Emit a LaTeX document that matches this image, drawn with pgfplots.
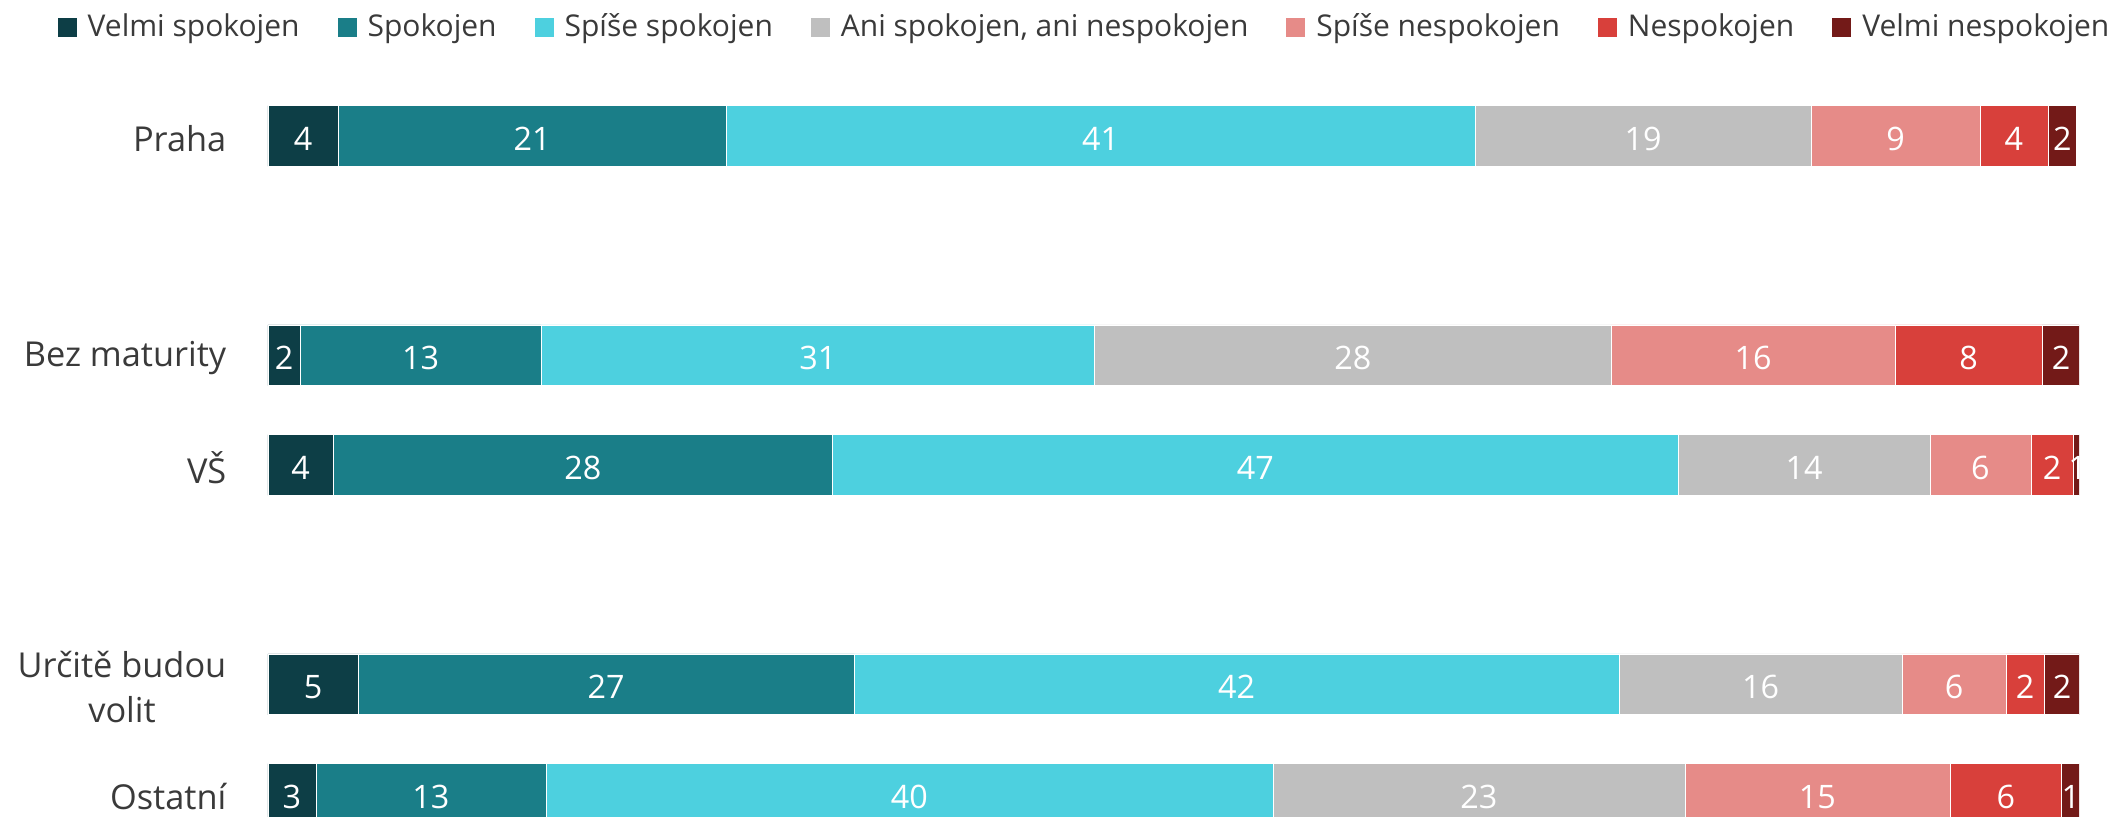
\documentclass[border=0pt]{standalone}
\usepackage{pgfplots}
\pgfplotsset{compat=1.18}
\usepackage{fontspec}
\setmainfont{Open Sans}
\definecolor{c1}{HTML}{0D3E46}
\definecolor{c2}{HTML}{1A7E88}
\definecolor{c3}{HTML}{4DD0DF}
\definecolor{c4}{HTML}{BFBFBF}
\definecolor{c5}{HTML}{E68B88}
\definecolor{c6}{HTML}{D8403B}
\definecolor{c7}{HTML}{731A18}
\definecolor{txt}{HTML}{3A3A3A}
\begin{document}
\begin{tikzpicture}
\begin{axis}[
  at={(0,0)}, anchor=south west,
  scale only axis, width=543.3pt, height=224.4pt,
  xbar stacked, bar width=0.554,
  xmin=0, xmax=100, ymin=-0.61, ymax=6.209, y dir=reverse,
  axis x line=none, axis y line=left,
  y axis line style={draw=none}, major tick length=0pt, ytick style={draw=none},
  ytick={0,2,3,5,6},
  yticklabels={Praha, Bez maturity, VŠ, {Určitě budou\\volit}, Ostatní},
  yticklabel style={anchor=east, inner sep=0pt, xshift=-12.3pt, yshift=-0.8pt, align=center,
    font=\fontsize{10.3}{13.4}\selectfont, text=txt},
  legend columns=7,
  legend style={at={(-0.1165,1.056)}, anchor=west, draw=none, fill=none,
    inner sep=0pt, font=\fontsize{9}{11}\selectfont, text=txt,
    nodes={inner xsep=0pt, inner ysep=1pt},
    /tikz/every even column/.append style={column sep=11.4pt},
    /tikz/every odd column/.append style={column sep=3.3pt}},
  legend image code/.code={\fill[#1, draw=none] (0pt,-2.85pt) rectangle (5.7pt,2.85pt);},
]
\addplot[fill=c1, draw=white, line width=0.2pt] coordinates {(3.87,0) (1.77,2) (3.59,3) (4.97,5) (2.65,6)};
\addlegendentry{Velmi spokojen}
\addplot[fill=c2, draw=white, line width=0.2pt] coordinates {(21.42,0) (13.31,2) (27.58,3) (27.39,5) (12.70,6)};
\addlegendentry{Spokojen}
\addplot[fill=c3, draw=white, line width=0.2pt] coordinates {(41.36,0) (30.57,2) (46.71,3) (42.24,5) (40.14,6)};
\addlegendentry{Spíše spokojen}
\addplot[fill=c4, draw=white, line width=0.2pt] coordinates {(18.55,0) (28.51,2) (13.89,3) (15.63,5) (22.75,6)};
\addlegendentry{Ani spokojen, ani nespokojen}
\addplot[fill=c5, draw=white, line width=0.2pt] coordinates {(9.33,0) (15.68,2) (5.58,3) (5.74,5) (14.63,6)};
\addlegendentry{Spíše nespokojen}
\addplot[fill=c6, draw=white, line width=0.2pt] coordinates {(3.75,0) (8.12,2) (2.32,3) (2.10,5) (6.18,6)};
\addlegendentry{Nespokojen}
\addplot[fill=c7, draw=white, line width=0.2pt] coordinates {(1.60,0) (2.10,2) (0.50,3) (1.99,5) (0.99,6)};
\addlegendentry{Velmi nespokojen}
\end{axis}
\begin{axis}[
  at={(0,0)}, anchor=south west,
  scale only axis, width=543.3pt, height=224.4pt,
  xmin=0, xmax=100, ymin=-0.61, ymax=6.209, y dir=reverse,
  hide axis, clip=false,
]
\addplot[draw=none, mark=none, nodes near coords, point meta=explicit symbolic,
  every node near coord/.append style={anchor=center, text=white, inner sep=0pt, yshift=-0.8pt,
    font=\fontsize{9.7}{11}\selectfont}]
coordinates {
(1.935,0) [4] (14.58,0) [21] (45.97,0) [41] (75.93,0) [19] (89.87,0) [9] (96.41,0) [4] (99.08,0) [2]
(0.885,2) [2] (8.425,2) [13] (30.365,2) [31] (59.905,2) [28] (82.0,2) [16] (93.9,2) [8] (99.01,2) [2]
(1.795,3) [4] (17.38,3) [28] (54.525,3) [47] (84.825,3) [14] (94.56,3) [6] (98.51,3) [2] (99.92,3) [1]
(2.485,5) [5] (18.665,5) [27] (53.48,5) [42] (82.415,5) [16] (93.1,5) [6] (97.02,5) [2] (99.065,5) [2]
(1.325,6) [3] (9.0,6) [13] (35.42,6) [40] (66.865,6) [23] (85.555,6) [15] (95.96,6) [6] (99.545,6) [1]
};
\end{axis}
\pgfresetboundingbox
\path[use as bounding box] (-80.4pt,0pt) rectangle (555.3pt,245.1pt);
\end{tikzpicture}
\end{document}
